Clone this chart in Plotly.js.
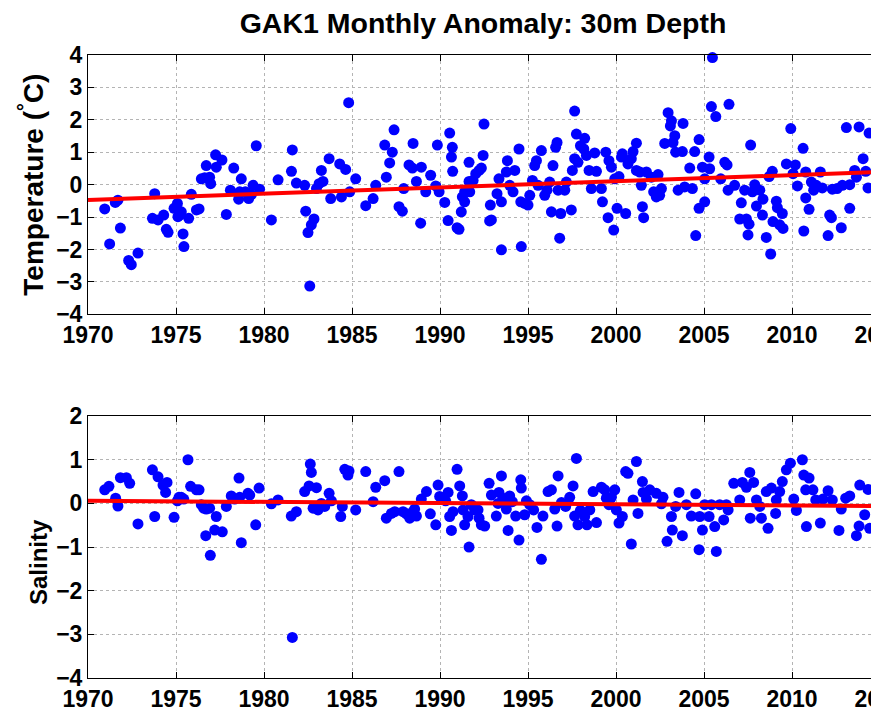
<!DOCTYPE html>
<html>
<head>
<meta charset="utf-8">
<script src="https://cdn.plot.ly/plotly-3.0.1.min.js"></script>
<style>
html,body{margin:0;padding:0;overflow:hidden;background:#fff;width:871px;height:711px;}
#chart{width:900px;height:711px;}
</style>
</head>
<body>
<div id="chart"></div>
<script>
// Temperature anomaly (°C), 30 m depth
var tempYears = [1970.95,1971.23,1971.55,1971.70,1971.84,1972.31,1972.46,1972.84,1973.66,1973.79,1973.98,1974.30,1974.45,1974.55,1974.89,1975.08,1975.11,1975.21,1975.30,1975.40,1975.45,1975.72,1975.87,1976.16,1976.31,1976.44,1976.63,1976.72,1976.91,1976.97,1977.25,1977.29,1977.61,1977.86,1978.09,1978.28,1978.56,1978.62,1978.71,1978.94,1979.13,1979.28,1979.38,1979.56,1979.75,1980.42,1980.80,1981.61,1981.56,1981.84,1982.31,1982.37,1982.84,1982.69,1982.50,1982.60,1982.98,1983.13,1983.35,1983.26,1983.70,1983.79,1984.30,1984.64,1984.40,1984.81,1984.87,1985.21,1985.78,1986.20,1986.35,1986.86,1986.95,1987.14,1987.29,1987.39,1987.67,1987.86,1987.94,1988.24,1988.43,1988.47,1988.66,1988.94,1988.90,1989.19,1989.47,1989.76,1989.85,1989.95,1990.27,1990.46,1990.55,1990.70,1990.65,1990.72,1990.97,1991.08,1991.27,1991.21,1991.40,1991.65,1991.65,1991.69,1991.40,1991.88,1992.03,1992.22,1992.35,1992.45,1992.50,1992.86,1992.92,1992.82,1993.24,1993.35,1993.49,1993.49,1993.83,1993.77,1993.96,1994.15,1994.25,1994.49,1994.59,1994.81,1994.62,1995.00,1995.10,1995.25,1995.38,1995.48,1995.57,1995.76,1995.95,1996.08,1996.23,1996.33,1996.42,1996.57,1996.65,1996.71,1996.80,1996.86,1997.09,1997.18,1997.46,1997.52,1997.65,1997.65,1997.75,1997.84,1997.98,1998.22,1998.17,1998.32,1998.47,1998.60,1998.79,1998.89,1999.17,1999.23,1999.42,1999.55,1999.60,1999.74,1999.87,1999.93,2000.06,2000.17,2000.31,2000.36,2000.55,2000.68,2000.87,2000.97,2001.16,2001.16,2001.35,2001.44,2001.50,2001.57,2001.73,2002.01,2002.14,2002.29,2002.39,2002.58,2002.48,2002.96,2003.15,2003.09,2003.34,2003.24,2002.77,2003.39,2003.53,2003.77,2003.81,2003.90,2004.19,2004.34,2004.47,2004.53,2004.72,2004.72,2004.91,2005.04,2005.04,2005.29,2005.32,2005.48,2005.42,2005.67,2005.95,2006.18,2006.31,2006.42,2006.37,2006.74,2007.03,2007.12,2007.31,2007.41,2007.56,2007.50,2007.65,2007.75,2007.88,2007.98,2008.17,2008.35,2008.32,2008.54,2008.70,2008.88,2008.79,2008.92,2009.11,2009.17,2009.30,2009.45,2009.49,2009.68,2009.93,2010.06,2010.19,2010.31,2010.63,2010.67,2010.78,2010.78,2010.97,2011.10,2011.23,2011.38,2011.61,2011.72,2012.05,2012.14,2012.24,2012.29,2012.56,2012.80,2012.86,2013.09,2013.28,2013.28,2013.56,2013.66,2013.81,2014.04,2014.19,2014.32,2014.38];
var tempAnom = [-0.75,-1.83,-0.55,-0.48,-1.34,-2.34,-2.47,-2.11,-1.04,-0.28,-1.09,-0.94,-1.38,-1.47,-0.73,-0.58,-0.99,-0.94,-0.84,-1.52,-1.91,-1.04,-0.30,-0.78,-0.75,0.18,0.21,0.59,0.23,0.03,0.92,0.54,0.76,-0.92,-0.17,0.51,-0.45,-0.22,0.18,-0.22,-0.43,-0.31,-0.02,1.20,-0.14,-1.09,0.15,1.07,0.41,0.05,-0.02,-0.82,-1.06,-1.24,-1.48,-3.13,-0.12,0.03,0.10,0.44,0.80,-0.43,0.64,0.47,-0.38,2.53,-0.22,0.18,-0.65,-0.43,-0.02,1.22,0.23,0.67,1.00,1.69,-0.68,-0.82,-0.12,0.61,0.51,1.27,0.10,0.54,-1.19,-0.22,0.29,-0.04,1.22,-0.22,-0.55,-1.11,1.59,1.15,0.85,0.41,-1.33,-1.38,-0.38,-0.84,-0.22,0.69,0.10,-0.22,-0.53,0.13,0.34,0.44,0.51,0.90,1.87,-0.63,-1.09,-1.12,-0.28,0.18,-0.53,-2.01,0.74,0.39,-0.02,-0.22,0.44,1.10,-0.53,-0.58,-1.91,-0.63,-0.33,0.13,0.59,0.74,-0.02,1.05,-0.33,-0.17,0.08,-0.84,0.59,1.15,1.30,-0.17,-1.65,-0.89,-0.17,0.08,-0.78,0.44,2.27,0.80,1.56,0.69,1.20,1.43,1.10,0.90,0.44,-0.12,0.98,0.41,-0.12,-0.53,1.00,-1.02,0.74,0.54,-1.40,0.18,-0.73,0.25,0.85,0.95,-0.89,0.64,0.80,1.02,1.28,0.44,0.39,-0.02,-0.68,-1.02,0.39,0.23,-0.22,-0.38,0.31,-0.12,-0.33,2.22,1.97,1.81,1.51,1.30,1.27,1.00,-0.17,1.02,1.89,-0.07,0.51,-0.12,1.02,-1.57,1.39,-0.73,0.54,-0.53,0.18,0.85,0.49,3.92,2.41,2.10,0.18,0.69,0.61,2.48,-0.17,-0.02,-1.06,-0.56,-0.17,-1.06,-1.22,-1.55,1.22,-0.22,0.00,-0.66,-0.17,-0.45,-0.94,-1.63,0.25,0.41,-2.14,-1.14,-0.51,-0.71,-1.24,-0.89,-1.35,0.64,1.73,0.34,0.61,-0.04,1.12,-1.43,-0.41,0.39,-0.76,0.08,-0.17,-0.02,0.39,-0.10,-1.57,-0.94,-1.02,-0.14,-0.12,-1.33,-0.02,1.76,0.00,-0.73,0.44,0.23,1.78,0.80,0.41,-0.10,1.59];

// Salinity anomaly, 30 m depth
var salYears = [1970.95,1971.19,1971.57,1971.70,1971.84,1972.18,1972.37,1972.84,1973.66,1973.98,1973.79,1974.26,1974.49,1974.41,1974.89,1975.08,1975.30,1975.17,1975.44,1975.68,1975.83,1976.16,1976.31,1976.44,1976.57,1976.72,1976.91,1976.69,1976.95,1977.29,1977.20,1977.63,1977.86,1978.14,1978.33,1978.58,1978.62,1978.71,1979.09,1979.19,1979.53,1979.72,1980.42,1980.80,1981.55,1981.84,1981.61,1982.31,1982.56,1982.63,1982.69,1982.98,1982.79,1983.07,1983.26,1983.45,1983.70,1983.83,1984.36,1984.45,1984.59,1984.83,1984.77,1985.21,1985.78,1986.20,1986.35,1986.86,1986.95,1987.24,1987.43,1987.67,1987.90,1988.09,1988.28,1988.47,1988.66,1988.56,1988.94,1989.23,1989.45,1989.76,1989.89,1989.98,1990.32,1990.46,1990.55,1990.65,1990.74,1990.97,1991.12,1991.27,1991.40,1991.65,1991.31,1991.59,1991.78,1991.97,1992.16,1992.22,1992.35,1992.54,1992.79,1992.92,1993.20,1993.30,1993.35,1993.49,1993.58,1993.77,1993.87,1993.96,1994.11,1994.30,1994.49,1994.59,1994.62,1994.81,1994.91,1995.10,1995.32,1995.51,1995.76,1995.85,1996.14,1996.33,1996.52,1996.65,1996.71,1996.90,1997.14,1997.37,1997.56,1997.65,1997.75,1997.84,1997.98,1998.22,1998.35,1998.51,1998.70,1998.89,1999.17,1999.36,1999.45,1999.60,1999.74,1999.93,2000.02,2000.17,2000.36,2000.55,2000.68,2000.87,2000.97,2001.16,2001.25,2001.50,2001.54,2001.73,2001.92,2002.29,2002.58,2002.67,2002.90,2003.15,2003.20,2003.39,2003.58,2003.77,2004.00,2004.28,2004.53,2004.72,2004.76,2004.91,2005.04,2005.29,2005.42,2005.61,2005.70,2005.89,2006.12,2006.27,2006.37,2006.69,2007.03,2007.18,2007.41,2007.60,2007.63,2007.82,2007.98,2008.17,2008.26,2008.54,2008.64,2008.83,2009.07,2009.11,2009.30,2009.45,2009.68,2009.91,2010.10,2010.25,2010.59,2010.67,2010.78,2010.97,2010.82,2011.19,2011.35,2011.61,2011.76,2012.05,2012.29,2012.67,2012.80,2013.05,2013.28,2013.66,2013.81,2013.85,2014.13,2014.32,2014.41];
var salAnom = [0.31,0.39,0.12,-0.06,0.59,0.59,0.46,-0.47,0.77,0.61,-0.30,0.42,0.48,0.25,-0.32,0.06,0.14,0.14,0.10,1.00,0.39,0.31,0.31,-0.03,-0.11,-0.13,-0.11,-0.74,-1.19,-0.30,-0.61,-0.65,-0.07,0.17,0.10,0.58,0.14,-0.90,0.23,0.19,-0.49,0.35,-0.01,0.08,-0.29,-0.19,-3.07,0.27,0.40,0.90,0.71,0.36,-0.11,-0.15,0.00,-0.07,0.23,0.06,-0.30,-0.07,0.78,0.74,0.65,-0.15,0.73,0.04,0.37,0.52,-0.34,-0.23,-0.19,0.73,-0.19,-0.24,-0.34,-0.19,-0.29,-0.13,0.10,0.27,-0.24,-0.49,0.42,0.16,0.06,0.25,-0.30,-0.62,-0.19,0.78,0.40,0.17,-0.49,-1.00,-0.15,-0.30,-0.03,-0.15,-0.15,-0.34,-0.49,-0.52,0.46,0.19,-0.29,0.00,0.25,0.63,0.12,-0.13,-0.62,0.17,0.04,-0.29,-0.84,0.54,0.35,-0.26,0.06,-0.03,-0.15,-0.55,-1.28,-0.29,0.27,0.31,-0.13,-0.52,0.63,0.02,-0.07,0.14,0.40,-0.29,1.03,-0.49,-0.16,-0.30,-0.49,-0.15,0.27,-0.44,0.37,0.31,0.12,-0.03,0.14,0.31,-0.15,-0.45,-0.30,0.73,0.69,-0.93,0.08,0.96,-0.23,0.50,0.25,0.10,0.31,0.23,-0.01,0.14,-0.87,-0.30,-0.61,-0.07,0.25,-0.74,-0.03,-0.29,0.22,-1.06,-0.30,-0.61,-0.03,-0.30,-0.03,-0.53,-1.10,-0.03,-0.38,-0.03,-0.15,0.46,0.08,0.48,0.37,0.71,-0.34,0.48,0.08,-0.07,-0.34,0.27,-0.57,0.35,-0.23,0.08,0.27,0.50,0.77,0.92,0.10,-0.16,1.00,0.65,0.31,0.58,-0.53,0.31,0.08,-0.45,0.10,0.29,0.08,-0.62,-0.13,0.12,0.17,-0.74,-0.52,0.42,-0.26,0.32,-0.57];

// Linear trend lines (end points)
var trendYears = [1970, 2015];
var tempTrend = [-0.47, 0.39];
var salTrend = [0.06, -0.06];

var xTickVals = [1970,1975,1980,1985,1990,1995,2000,2005,2010,2015];
var tempTicks = [-4,-3,-2,-1,0,1,2,3,4];
var salTicks = [-4,-3,-2,-1,0,1,2];

var FONT = 'Liberation Sans, Arial, Helvetica, sans-serif';

var traces = [
  {x: tempYears, y: tempAnom, xaxis:'x', yaxis:'y', mode:'markers', type:'scatter',
   marker:{color:'#0000ff', size:11}, cliponaxis:false},
  {x: trendYears, y: tempTrend, xaxis:'x', yaxis:'y', mode:'lines', type:'scatter',
   line:{color:'#ff0000', width:4}},
  {x: salYears, y: salAnom, xaxis:'x2', yaxis:'y2', mode:'markers', type:'scatter',
   marker:{color:'#0000ff', size:11}, cliponaxis:false},
  {x: trendYears, y: salTrend, xaxis:'x2', yaxis:'y2', mode:'lines', type:'scatter',
   line:{color:'#ff0000', width:4}}
];

function xAxis(anchor){
  return {
    anchor: anchor, range:[1970, 2015], tickvals: xTickVals, ticktext: xTickVals.map(String),
    ticks:'inside', ticklen:6, tickcolor:'#000', showline:true, linecolor:'#000', linewidth:1,
    mirror:'ticks', showgrid:true, gridcolor:'#b4b4b4', griddash:'dot', gridwidth:1,
    zeroline:false, ticklabeloverflow:'allow',
    tickfont:{family:FONT, size:23, color:'#000', weight:700}
  };
}
function yAxis(anchor, dom, range, ticks, title, tsize){
  var ax = {
    anchor: anchor, domain: dom, range: range, tickvals: ticks,
    ticks:'inside', ticklen:6, tickcolor:'#000', showline:true, linecolor:'#000', linewidth:1,
    mirror:'ticks', showgrid:true, gridcolor:'#b4b4b4', griddash:'dot', gridwidth:1,
    zeroline:false, ticklabeloverflow:'allow',
    tickfont:{family:FONT, size:23, color:'#000', weight:700}
  };
  if (title) ax.title = {text:title, font:{family:FONT, size:tsize, color:'#000', weight:700}, standoff:4};
  return ax;
}

var layout = {
  width: 900, height: 711,
  margin: {l:88, r:20, t:55, b:33},
  paper_bgcolor:'#fff', plot_bgcolor:'#fff',
  showlegend:false,
  title:{text:'GAK1 Monthly Anomaly: 30m Depth', font:{family:FONT, size:28.5, color:'#000', weight:700},
         x: 483/900, xanchor:'center', xref:'container', y: 1 - 23/711, yanchor:'middle', yref:'container'},
  xaxis: xAxis('y'),
  yaxis: yAxis('x', [0.5838, 1], [-4, 4], tempTicks, 'Temperature (<sup>°</sup>C)', 28),
  xaxis2: xAxis('y2'),
  yaxis2: yAxis('x2', [0, 0.4204], [-4, 2], salTicks, null, 0),
  annotations: [
    {text:'Salinity', textangle:-90, xref:'paper', yref:'paper',
     x: (38-88)/792, xanchor:'center', y: (711-33-562)/623, yanchor:'middle', showarrow:false,
     font:{family:FONT, size:24, color:'#000', weight:700}}
  ]
};

Plotly.newPlot('chart', traces, layout, {displayModeBar:false, staticPlot:true});
</script>
</body>
</html>
